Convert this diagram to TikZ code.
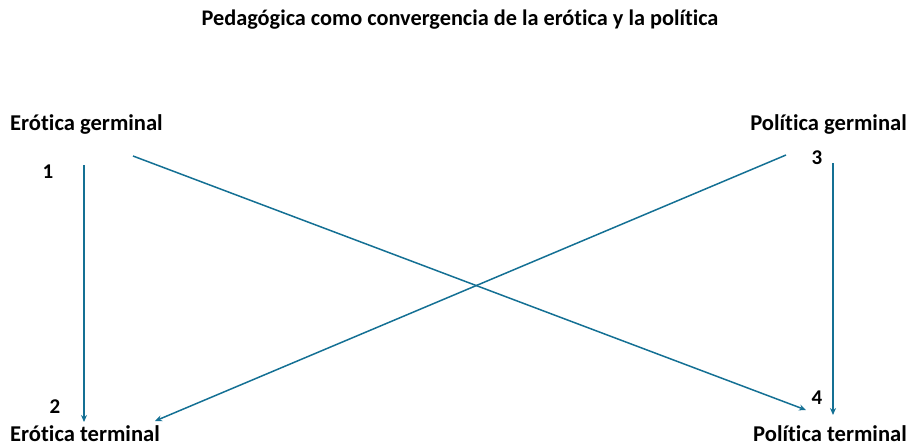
\documentclass[tikz,border=0pt]{standalone}
\usepackage{fontspec}
\setmainfont{Carlito}[Ligatures=NoCommon]
\usetikzlibrary{arrows.meta}
\definecolor{flecha}{RGB}{20,112,148}

\begin{document}
\begin{tikzpicture}[x=1pt,y=-1pt,
        etiqueta/.style={font=\bfseries\fontsize{22.6}{24}\selectfont, inner sep=0pt},
        titular/.style={font=\bfseries\fontsize{22.3}{24}\selectfont, inner sep=0pt},
        numero/.style={font=\bfseries\fontsize{21}{23}\selectfont, inner sep=0pt},
        flechas/.style={->, >={Stealth[length=7pt,width=6pt]}, color=flecha, line width=1.5pt}]
        \useasboundingbox (0,0) rectangle (909,447);

        \node[titular] (titulo) at (460,20) {Pedagógica como convergencia de la erótica y la política};

        \node[etiqueta, anchor=west] (eg) at (10,124) {Erótica germinal};
        \node[etiqueta, anchor=east] (pg) at (907,124) {Política germinal};
        \node[etiqueta, anchor=west] (et) at (10,434) {Erótica terminal};
        \node[etiqueta, anchor=west] (pt) at (753,434) {Política terminal};

        \node[numero] (n1) at (48,172) {1};
        \node[numero] (n2) at (55,407) {2};
        \node[numero] (n3) at (817,158) {3};
        \node[numero] (n4) at (817,398) {4};

        \coordinate (A) at (84,165);
        \coordinate (A') at (84,422);
        \coordinate (B) at (833,163);
        \coordinate (B') at (833,415);
        \coordinate (C) at (133,156);
        \coordinate (C') at (806,410);
        \coordinate (D) at (786,155);
        \coordinate (D') at (155,421);

        \draw[flechas] (A)--(A');
        \draw[flechas] (B)--(B');
        \draw[flechas] (C)--(C');% se cruzan
        \draw[flechas] (D)--(D');
    \end{tikzpicture}
\end{document}
